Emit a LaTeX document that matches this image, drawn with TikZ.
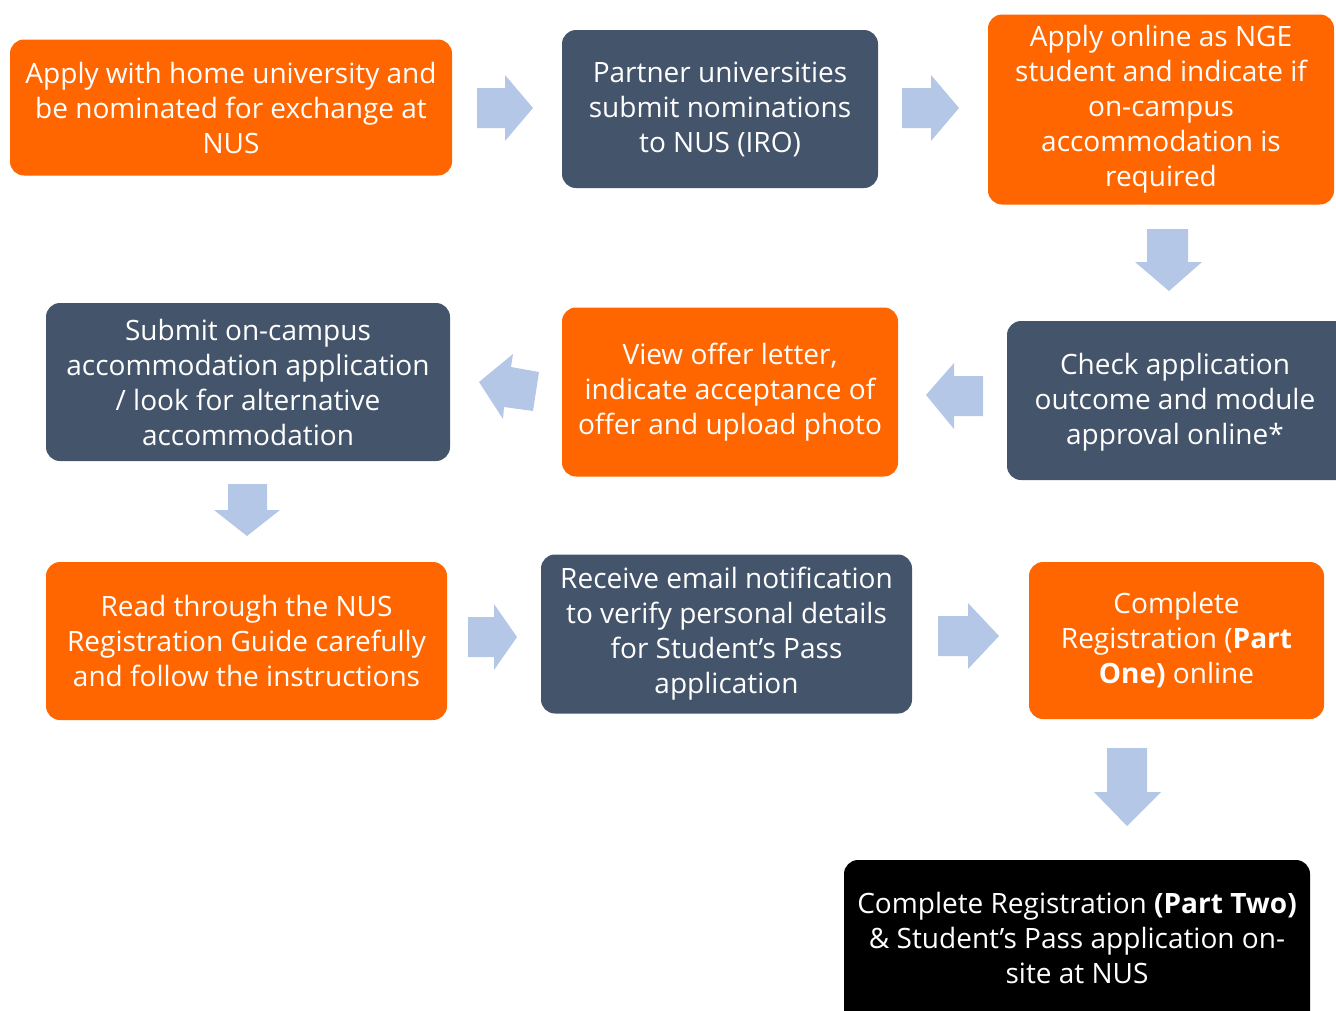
\documentclass[tikz,border=0pt]{standalone}
\usepackage{fontspec}
\setmainfont{Open Sans}
\definecolor{nusorange}{HTML}{FF6600}
\definecolor{slate}{HTML}{44546A}
\definecolor{arrowblue}{HTML}{B4C7E7}
\begin{document}
\begin{tikzpicture}[x=1pt,y=-1pt,
  box/.style={rounded corners=14pt, text=white, align=center, inner sep=0pt,
    font=\fontsize{28}{35}\selectfont},
  orangebox/.style={box, fill=nusorange},
  slatebox/.style={box, fill=slate},
  blackbox/.style={box, fill=black},
  txt/.style={text=white, align=center, inner sep=0pt, font=\fontsize{28}{35}\selectfont},
  blockarrow/.style={fill=arrowblue, draw=none}]
\useasboundingbox (0,0) rectangle (1336,1010);
\clip (0,0) rectangle (1336,1010);

% boxes
\node[orangebox, minimum width=442pt, minimum height=136pt] (b1) at (231,107.5)
  {Apply with home university and\\be nominated for exchange at\\NUS};
\node[slatebox, minimum width=316pt, minimum height=158pt] (b2) at (720,109)
  {Partner universities\\submit nominations\\to NUS (IRO)};
\node[orangebox, minimum width=346pt, minimum height=190pt] (b3) at (1161,109.5)
  {Apply online as NGE\\student and indicate if\\on-campus\\accommodation is\\required};
\node[slatebox, minimum width=343pt, minimum height=159pt] (b4) at (1178.5,400.5) {};
\node[txt] (b4t) at (1175,402.5) {Check application\\outcome and module\\approval online*};
\node[orangebox, minimum width=336pt, minimum height=169pt] (b5) at (730,392)
  {View offer letter,\\indicate acceptance of\\offer and upload photo};
\node[slatebox, minimum width=404pt, minimum height=158pt] (b6) at (248,382)
  {Submit on-campus\\accommodation application\\/ look for alternative\\accommodation};
\node[orangebox, minimum width=401pt, minimum height=158pt] (b7) at (246.5,641)
  {Read through the NUS\\Registration Guide carefully\\and follow the instructions};
\node[slatebox, minimum width=371pt, minimum height=159pt] (b8) at (726.5,634)
  {Receive email notification\\to verify personal details\\for Student’s Pass\\application};
\node[orangebox, minimum width=295pt, minimum height=157pt] (b9) at (1176.5,640.5)
  {Complete\\Registration (\textbf{Part}\\\textbf{One)} online};
\node[blackbox, minimum width=466pt, minimum height=170pt] (b10) at (1077,945) {};
\node[txt] (b10t) at (1077,938)
  {Complete Registration \textbf{(Part Two)}\\\& Student’s Pass application on-\\site at NUS};

% block arrows
\fill[blockarrow] (477,88) -- (505,88) -- (505,75) -- (533,108) -- (505,141) -- (505,128) -- (477,128) -- cycle;
\fill[blockarrow] (902,88) -- (931,88) -- (931,75) -- (959,108) -- (931,141) -- (931,128) -- (902,128) -- cycle;
\fill[blockarrow] (1147,229) -- (1188,229) -- (1188,262) -- (1202,262) -- (1169,291) -- (1135,262) -- (1147,262) -- cycle;
\fill[blockarrow] (983,376) -- (954,376) -- (954,363) -- (926,395) -- (954,429) -- (954,416) -- (983,416) -- cycle;
\fill[blockarrow] (539,372) -- (511,367) -- (513,354) -- (479,382) -- (503,419) -- (504,407) -- (533,411) -- cycle;
\fill[blockarrow] (228,484) -- (267,484) -- (267,510) -- (280,510) -- (247,536) -- (214,510) -- (228,510) -- cycle;
\fill[blockarrow] (468,617) -- (494,617) -- (494,604) -- (517,637) -- (494,670) -- (494,657) -- (468,657) -- cycle;
\fill[blockarrow] (938,616) -- (968,616) -- (968,603) -- (999,636) -- (968,669) -- (968,656) -- (938,656) -- cycle;
\fill[blockarrow] (1107,748) -- (1147,748) -- (1147,792) -- (1161,792) -- (1127,826) -- (1094,792) -- (1107,792) -- cycle;
\end{tikzpicture}
\end{document}
